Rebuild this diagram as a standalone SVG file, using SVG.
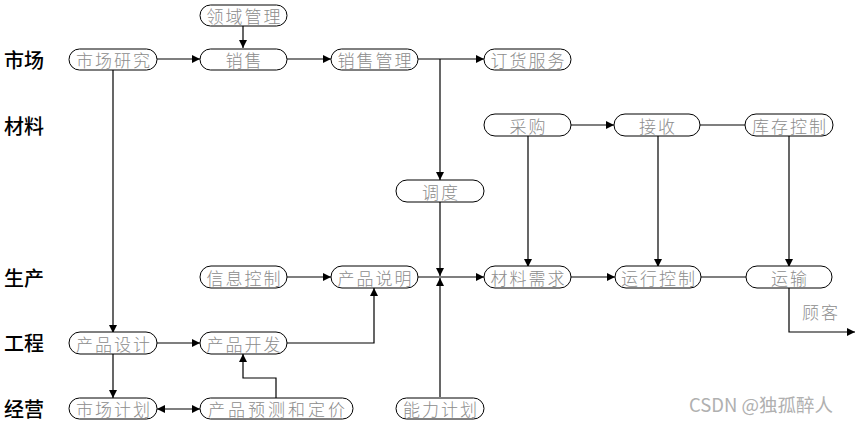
<svg xmlns="http://www.w3.org/2000/svg" width="856" height="423" viewBox="0 0 856 423">
<style>
.n rect{fill:#fff;stroke:#000;stroke-width:1}
.n text{font-family:"Noto Sans CJK SC","Liberation Sans",sans-serif;font-size:17px;font-weight:300;fill:#8c8c8c;text-anchor:middle;dominant-baseline:central;letter-spacing:2px}
.lab{font-family:"Noto Sans CJK SC","Liberation Sans",sans-serif;font-size:20px;font-weight:500;fill:#000;dominant-baseline:central}
.c path{fill:none;stroke:#000;stroke-width:1.2}
.wm{font-family:"Noto Sans CJK SC","Liberation Sans",sans-serif;font-size:18.5px;fill:#b0b0b0}
</style>
<defs>
<marker id="a" viewBox="0 0 10 10" refX="10" refY="5" markerWidth="8" markerHeight="8" markerUnits="userSpaceOnUse" orient="auto-start-reverse"><path d="M0,0 L10,5 L0,10 z" fill="#000"/></marker>
</defs>
<g id="labels">
<text class="lab" x="4" y="59">市场</text>
<text class="lab" x="4" y="125">材料</text>
<text class="lab" x="4" y="277">生产</text>
<text class="lab" x="4" y="342">工程</text>
<text class="lab" x="4" y="408">经营</text>
</g>
<g class="c" id="connectors">
<path d="M243,25 V48" marker-end="url(#a)"/>
<path d="M157,59 H200" marker-end="url(#a)"/>
<path d="M287,59 H331" marker-end="url(#a)"/>
<path d="M418,59 H484" marker-end="url(#a)"/>
<path d="M440,59 V180" marker-end="url(#a)"/>
<path d="M440,202 V276" marker-end="url(#a)"/>
<path d="M440,397 V278" marker-end="url(#a)"/>
<path d="M418,277 H484" marker-end="url(#a)"/>
<path d="M287,277 H331" marker-end="url(#a)"/>
<path d="M287,343 H374 V288" marker-end="url(#a)"/>
<path d="M113,70 V333" marker-end="url(#a)"/>
<path d="M113,354 V398" marker-end="url(#a)"/>
<path d="M157,343 H200" marker-end="url(#a)"/>
<path d="M157,409 H200" marker-start="url(#a)" marker-end="url(#a)"/>
<path d="M276,398 V378 H243 V354" marker-end="url(#a)"/>
<path d="M571,125 H614" marker-end="url(#a)"/>
<path d="M700,125 H745"/>
<path d="M528,136 V267" marker-end="url(#a)"/>
<path d="M658,136 V267" marker-end="url(#a)"/>
<path d="M789,136 V267" marker-end="url(#a)"/>
<path d="M571,277 H615" marker-end="url(#a)"/>
<path d="M701,277 H746"/>
<path d="M789,288 V332 H855" marker-end="url(#a)"/>
</g>
<g class="n" id="n1"><rect x="200" y="5" width="87" height="21" rx="10.5"/><text x="244.5" y="15.5">领域管理</text></g>
<g class="n" id="n2"><rect x="69" y="49" width="88" height="21" rx="10.5"/><text x="114" y="59.5">市场研究</text></g>
<g class="n" id="n3"><rect x="200" y="49" width="87" height="21" rx="10.5"/><text x="244.5" y="59.5">销售</text></g>
<g class="n" id="n4"><rect x="331" y="49" width="87" height="21" rx="10.5"/><text x="375.5" y="59.5">销售管理</text></g>
<g class="n" id="n5"><rect x="484" y="49" width="87" height="21" rx="10.5"/><text x="528.5" y="59.5">订货服务</text></g>
<g class="n" id="n6"><rect x="484" y="114" width="87" height="22" rx="11"/><text x="528.5" y="125">采购</text></g>
<g class="n" id="n7"><rect x="614" y="114" width="86" height="22" rx="11"/><text x="658" y="125">接收</text></g>
<g class="n" id="n8"><rect x="745" y="114" width="88" height="22" rx="11"/><text x="790" y="125">库存控制</text></g>
<g class="n" id="n9"><rect x="396" y="180" width="88" height="22" rx="11"/><text x="441" y="191">调度</text></g>
<g class="n" id="n10"><rect x="200" y="266" width="87" height="22" rx="11"/><text x="244.5" y="277">信息控制</text></g>
<g class="n" id="n11"><rect x="331" y="266" width="87" height="22" rx="11"/><text x="375.5" y="277">产品说明</text></g>
<g class="n" id="n12"><rect x="484" y="266" width="87" height="22" rx="11"/><text x="528.5" y="277">材料需求</text></g>
<g class="n" id="n13"><rect x="615" y="266" width="86" height="22" rx="11"/><text x="659" y="277">运行控制</text></g>
<g class="n" id="n14"><rect x="746" y="266" width="86" height="22" rx="11"/><text x="790" y="277">运输</text></g>
<g class="n" id="n15"><rect x="69" y="332" width="88" height="22" rx="11"/><text x="114" y="343">产品设计</text></g>
<g class="n" id="n16"><rect x="200" y="332" width="87" height="22" rx="11"/><text x="244.5" y="343">产品开发</text></g>
<g class="n" id="n17"><rect x="69" y="398" width="88" height="21" rx="10.5"/><text x="114" y="408.5">市场计划</text></g>
<g class="n" id="n18"><rect x="200" y="398" width="153" height="21" rx="10.5"/><text x="278" y="408.5" style="letter-spacing:3px">产品预测和定价</text></g>
<g class="n" id="n19"><rect x="396" y="398" width="88" height="21" rx="10.5"/><text x="441" y="408.5">能力计划</text></g>
<text x="821" y="311" style="font-family:'Noto Sans CJK SC',sans-serif;font-size:17px;font-weight:300;fill:#8c8c8c;text-anchor:middle;dominant-baseline:central;letter-spacing:2px">顾客</text>
<text class="wm" x="689" y="412">CSDN @独孤醉人</text>
</svg>
